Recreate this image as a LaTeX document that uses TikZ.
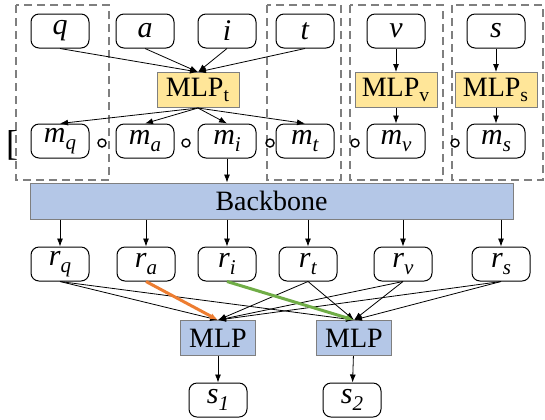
\documentclass[tikz,border=0pt]{standalone}
\usepackage{fontspec}
\setmainfont{Liberation Serif}[ItalicFont={Liberation Serif Italic}]
\usetikzlibrary{arrows.meta}

\definecolor{amarillo}{HTML}{FFE699}
\definecolor{azul}{HTML}{B4C7E7}
\definecolor{borde}{HTML}{7F7F7F}
\definecolor{naranja}{HTML}{ED7D31}
\definecolor{verde}{HTML}{70AD47}

\newcommand{\etq}[2]{\textit{#1}\raisebox{-0.55ex}{\fontsize{10.5}{10.5}\selectfont\textit{#2}}}

\tikzset{
  caja/.style={draw, rounded corners=4pt, minimum width=29pt, minimum height=17pt,
    inner sep=0pt, line width=0.5pt, font=\fontsize{15}{17}\selectfont},
  mlp/.style={draw=borde, fill=amarillo, minimum width=41pt, minimum height=17.5pt,
    inner sep=0pt, line width=0.5pt, font=\fontsize{14}{16}\selectfont},
  flecha/.style={-{Latex[length=4pt,width=3pt]}, line width=0.4pt},
  grupo/.style={draw=borde, line width=0.9pt, dash pattern=on 4pt off 2.5pt},
  signo/.style={draw, circle, inner sep=0pt, minimum size=4pt, line width=0.7pt}
}

\begin{document}
\begin{tikzpicture}[x=0.5pt, y=-0.5pt]
    \useasboundingbox (0,0) rectangle (545,419);

    % grupos
    \draw[grupo] (16,5) rectangle (109,180);
    \draw[grupo] (267,5) rectangle (341,180);
    \draw[grupo] (350,5) rectangle (443,180);
    \draw[grupo] (452,5) rectangle (543,180);

    % entradas
    \node[caja] (q) at (60,31) {\textit{q}};
    \node[caja] (a) at (145,31) {\textit{a}};
    \node[caja] (i) at (227,31) {\textit{i}};
    \node[caja] (t) at (305,31) {\textit{t}};
    \node[caja] (v) at (396,31) {\textit{v}};
    \node[caja] (s) at (496,31) {\textit{s}};

    \node[mlp] (mlpt) at (198,90) {MLP\textsubscript{t}};
    \node[mlp] (mlpv) at (396,90) {MLP\textsubscript{v}};
    \node[mlp] (mlps) at (496,90) {MLP\textsubscript{s}};

    \node[caja] (mq) at (60,141) {\etq{m}{q}};
    \node[caja] (ma) at (145,141) {\etq{m}{a}};
    \node[caja] (mi) at (227,141) {\etq{m}{i}};
    \node[caja] (mt) at (305,141) {\etq{m}{t}};
    \node[caja] (mv) at (396,141) {\etq{m}{v}};
    \node[caja] (ms) at (496,141) {\etq{m}{s}};

    \node[inner sep=0pt, font=\fontsize{18}{20}\selectfont] (cor) at (12,145) {[};
    \node[signo] (c1) at (102,143) {};
    \node[signo] (c2) at (186,143) {};
    \node[signo] (c3) at (270,143) {};
    \node[signo] (c4) at (355,143) {};
    \node[signo] (c5) at (455,143) {};

    \foreach \n in {q,a,i,t} {
        \draw[flecha] (\n.south) -- (mlpt.north);
        \draw[flecha] (mlpt.south) -- (m\n.north);
    }
    \draw[flecha] (v) -- (mlpv);
    \draw[flecha] (mlpv) -- (mv);
    \draw[flecha] (s) -- (mlps);
    \draw[flecha] (mlps) -- (ms);

    % backbone
    \node[mlp, fill=azul, minimum width=241.5pt, minimum height=18pt] (bb) at (271.5,201) {Backbone};
    \draw[flecha] (mi.south) -- (mi.south |- bb.north);

    \node[caja] (rq) at (60,264) {\etq{r}{q}};
    \node[caja] (ra) at (146,264) {\etq{r}{a}};
    \node[caja] (ri) at (227,264) {\etq{r}{i}};
    \node[caja] (rt) at (308,264) {\etq{r}{t}};
    \node[caja] (rv) at (403,264) {\etq{r}{v}};
    \node[caja] (rs) at (501,264) {\etq{r}{s}};

    \foreach \n in {q,a,i,t,v,s}
        \draw[flecha] (r\n.north |- bb.south) -- (r\n.north);

    % salida
    \node[mlp, fill=azul, minimum width=37.5pt] (mlp1) at (218,338) {MLP};
    \node[mlp, fill=azul, minimum width=37.5pt] (mlp2) at (354,338) {MLP};

    \foreach \n in {q,t,v,s} {
        \draw[flecha] (r\n.south) -- (mlp1.north);
        \draw[flecha] (r\n.south) -- (mlp2.north);
    }
    \draw[flecha, naranja, line width=1.5pt] (ra.south) -- (mlp1.north);
    \draw[flecha, verde, line width=1.5pt] (ri.south) -- (mlp2.north);

    \node[caja] (s1) at (218,400) {\etq{s}{1}};
    \node[caja] (s2) at (352,400) {\etq{s}{2}};
    \draw[flecha] (mlp1) -- (s1);
    \draw[flecha] (mlp2) -- (s2);
\end{tikzpicture}
\end{document}
